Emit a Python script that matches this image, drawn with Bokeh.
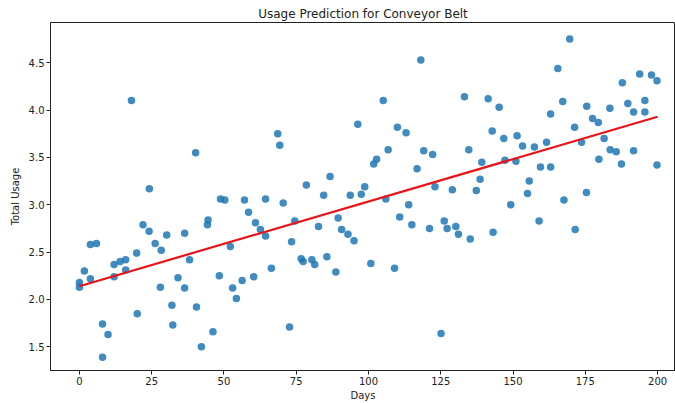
from bokeh.plotting import figure
from bokeh.models import ColumnDataSource, FixedTicker, Range1d
from bokeh.embed import file_html
from bokeh.resources import INLINE

title_text = "Usage Prediction for Conveyor Belt"
x_label = "Days"
y_label = "Total Usage"

days = [
    0, 0, 1.7, 3.8, 3.8, 5.9, 8.0, 8.0, 9.9, 12.0,
    12.0, 14.1, 16.0, 16.0, 18.0, 19.8, 20.0, 22.0, 24.1, 24.2,
    26.2, 28.0, 28.3, 30.2, 32.0, 32.3, 34.1, 36.4, 36.4, 38.1,
    40.2, 40.5, 42.2, 44.3, 44.5, 46.2, 48.4, 48.8, 50.3, 52.2,
    53.0, 54.3, 56.3, 57.1, 58.5, 60.3, 60.9, 62.6, 64.4, 64.4,
    66.4, 68.6, 69.3, 70.5, 72.7, 73.4, 74.5, 76.7, 77.4, 78.5,
    80.4, 81.4, 82.7, 84.5, 85.6, 86.7, 88.7, 89.5, 90.7, 92.9,
    93.7, 95.0, 96.3, 97.5, 98.7, 100.8, 101.8, 102.8, 105.1, 106.0,
    106.8, 109.0, 110.0, 110.8, 113.0, 113.9, 115.0, 116.8, 118.1, 119.1,
    121.1, 122.2, 123.0, 125.1, 126.2, 127.2, 129.0, 130.2, 131.1, 133.2,
    134.7, 135.2, 137.3, 138.6, 139.2, 141.4, 142.8, 143.1, 145.2, 146.8,
    147.2, 149.2, 151.0, 151.4, 153.3, 155.0, 155.6, 157.4, 159.0, 159.5,
    161.6, 163.0, 163.0, 165.5, 167.2, 167.6, 169.6, 171.3, 171.5, 173.7,
    175.4, 175.5, 177.5, 179.5, 179.7, 181.5, 183.5, 183.6, 185.7, 187.5,
    187.8, 189.7, 191.7, 191.7, 193.8, 195.6, 195.6, 197.9, 199.8, 199.8,
]
usage = [
    2.18, 2.13, 2.30, 2.58, 2.22, 2.59, 1.74, 1.39, 1.63, 2.37,
    2.24, 2.40, 2.42, 2.31, 4.10, 2.49, 1.85, 2.79, 2.72, 3.17,
    2.59, 2.13, 2.52, 2.68, 1.94, 1.73, 2.23, 2.70, 2.12, 2.42,
    3.55, 1.92, 1.50, 2.79, 2.84, 1.66, 2.25, 3.06, 3.05, 2.56,
    2.12, 2.01, 2.20, 3.05, 2.92, 2.24, 2.81, 2.74, 2.67, 3.06,
    2.33, 3.75, 3.63, 3.02, 1.71, 2.61, 2.83, 2.43, 2.40, 3.21,
    2.42, 2.37, 2.77, 3.10, 2.45, 3.30, 2.29, 2.86, 2.74, 2.69,
    3.10, 2.62, 3.85, 3.11, 3.19, 2.38, 3.43, 3.48, 4.10, 3.06,
    3.58, 2.33, 3.82, 2.87, 3.76, 3.00, 2.79, 3.38, 4.53, 3.57,
    2.75, 3.53, 3.19, 1.64, 2.83, 2.75, 3.16, 2.77, 2.69, 4.14,
    3.58, 2.64, 3.15, 3.27, 3.45, 4.12, 3.78, 2.71, 4.03, 3.70,
    3.47, 3.00, 3.46, 3.73, 3.62, 3.12, 3.25, 3.61, 2.83, 3.40,
    3.66, 3.96, 3.40, 4.44, 4.09, 3.05, 4.75, 3.82, 2.74, 3.66,
    3.13, 4.04, 3.91, 3.87, 3.48, 3.70, 4.02, 3.58, 3.56, 3.43,
    4.29, 4.07, 3.98, 3.57, 4.38, 4.10, 3.98, 4.37, 4.31, 3.42,
]

fit_days = [0, 200]
fit_usage = [2.14, 3.93]

x_ticks = [0, 25, 50, 75, 100, 125, 150, 175, 200]
y_ticks = [1.5, 2.0, 2.5, 3.0, 3.5, 4.0, 4.5]

FONT = "DejaVu Sans"

p = figure(
    width=675, height=403,
    output_backend="svg", toolbar_location=None,
    x_range=Range1d(-10, 206.2), y_range=Range1d(1.25, 4.925),
    min_border_left=50, min_border_right=0, min_border_top=22, min_border_bottom=33,
    title=title_text,
)

p.title.align = "center"
p.title.text_font = FONT
p.title.text_font_size = "12px"
p.title.text_font_style = "normal"
p.title.text_color = "#222222"
p.title.standoff = 3

p.outline_line_color = "#222222"
p.outline_line_alpha = 1.0
p.xgrid.visible = False
p.ygrid.visible = False
p.background_fill_color = "white"
p.border_fill_color = "white"

src = ColumnDataSource(dict(days=days, usage=usage))
p.scatter("days", "usage", source=src, size=7.5, fill_color="#1f77b4",
          fill_alpha=0.85, line_color=None)

fit_src = ColumnDataSource(dict(days=fit_days, usage=fit_usage))
p.line("days", "usage", source=fit_src, line_color="#e8141a", line_width=2.2)

for ax in (p.xaxis[0], p.yaxis[0]):
    ax.axis_line_color = "#222222"
    ax.major_tick_line_color = "#222222"
    ax.minor_tick_line_color = None
    ax.major_tick_in = 0
    ax.major_tick_out = 4
    ax.major_label_standoff = 2
    ax.major_label_text_font = FONT
    ax.major_label_text_font_size = "10px"
    ax.major_label_text_color = "#222222"
    ax.axis_label_text_font = FONT
    ax.axis_label_text_font_size = "10px"
    ax.axis_label_text_font_style = "normal"
    ax.axis_label_text_color = "#222222"
    ax.axis_label_standoff = 2

p.yaxis[0].axis_label_standoff = 5
p.xaxis[0].ticker = FixedTicker(ticks=x_ticks)
p.yaxis[0].ticker = FixedTicker(ticks=y_ticks)
p.yaxis[0].major_label_overrides = {t: f"{t:.1f}" for t in y_ticks}
p.xaxis[0].axis_label = x_label
p.yaxis[0].axis_label = y_label

open("out.html", "w").write(file_html(p, INLINE))
